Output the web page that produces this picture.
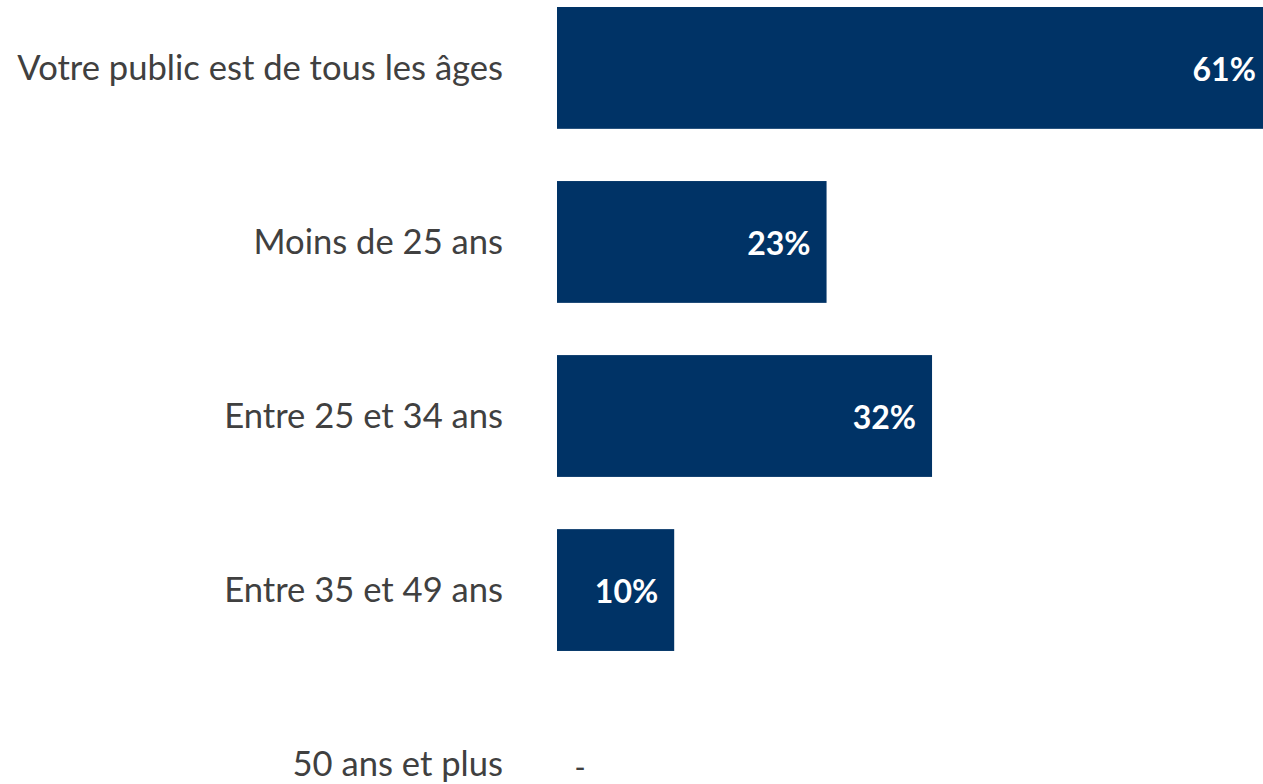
<!DOCTYPE html>
<html>
<head>
<meta charset="utf-8">
<script src="https://cdn.jsdelivr.net/npm/d3@7"></script>
<style>
  body { margin: 0; background: #fff; }
  svg { display: block; }
  .catLabel { font-family: Lato, "Open Sans", sans-serif; font-size: 34.6px; fill: #404040; }
  .valLabel { font-family: Lato, "Open Sans", sans-serif; font-size: 32px; font-weight: bold; fill: #fff; }
  .zeroLabel { font-family: Lato, "Open Sans", sans-serif; font-size: 30px; fill: #404040; }
</style>
</head>
<body>
<div id="chart"></div>
<script>
var categories = [
  "Votre public est de tous les âges",
  "Moins de 25 ans",
  "Entre 25 et 34 ans",
  "Entre 35 et 49 ans",
  "50 ans et plus"
];
var values = [61, 23, 32, 10, 0];

var width = 1263;
var height = 784;

var barLeft = 557;
var labelRight = 503;

var svg = d3
  .select("#chart")
  .append("svg")
  .attr("width", width)
  .attr("height", height);

var data = categories.map(function(c, i) {
  return { cat: c, val: values[i] };
});

var xScale = d3
  .scaleLinear()
  .domain([0, 100])
  .range([barLeft, barLeft + 1172]);

var yScale = d3
  .scaleBand()
  .domain(categories)
  .range([7, 825])
  .paddingInner(0.3)
  .paddingOuter(0);

// bars
svg.selectAll("rect.bar")
  .data(data.filter(function(d) { return d.val > 0; }))
  .enter()
  .append("rect")
  .attr("class", "bar")
  .attr("x", xScale(0))
  .attr("y", function(d) { return yScale(d.cat); })
  .attr("width", function(d) { return xScale(d.val) - xScale(0); })
  .attr("height", yScale.bandwidth())
  .attr("fill", "#003366");

// category labels
svg.selectAll("text.catLabel")
  .data(data)
  .enter()
  .append("text")
  .attr("class", "catLabel")
  .attr("x", labelRight)
  .attr("y", function(d) { return yScale(d.cat) + yScale.bandwidth() / 2 + 12; })
  .attr("text-anchor", "end")
  .text(function(d) { return d.cat; });

// value labels inside the bar end
svg.selectAll("text.valLabel")
  .data(data.filter(function(d) { return d.val > 0; }))
  .enter()
  .append("text")
  .attr("class", "valLabel")
  .attr("x", function(d) { return xScale(d.val) - 16; })
  .attr("y", function(d) { return yScale(d.cat) + yScale.bandwidth() / 2 + 13; })
  .attr("text-anchor", "end")
  .text(function(d) { return d.val + "%"; });

// zero values shown as a dash
svg.selectAll("text.zeroLabel")
  .data(data.filter(function(d) { return d.val === 0; }))
  .enter()
  .append("text")
  .attr("class", "zeroLabel")
  .attr("x", xScale(0) + 23)
  .attr("y", function(d) { return yScale(d.cat) + yScale.bandwidth() / 2 + 14; })
  .attr("text-anchor", "middle")
  .text("-");
</script>
</body>
</html>
